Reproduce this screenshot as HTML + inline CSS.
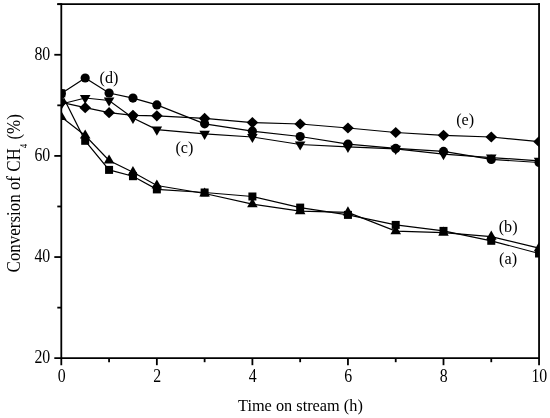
<!DOCTYPE html>
<html><head><meta charset="utf-8"><style>
html,body{margin:0;padding:0;background:#fff;}
body{width:550px;height:418px;overflow:hidden;font-family:"Liberation Serif",serif;}
svg{display:block;will-change:transform;}
</style></head><body>
<svg width="550" height="418" viewBox="0 0 550 418">
<defs><clipPath id="pc"><rect x="61.3" y="4.2" width="477.74999999999994" height="354.0"/></clipPath></defs>
<rect width="550" height="418" fill="#fff"/>
<g clip-path="url(#pc)">
<polyline points="61.30,102.40 85.19,107.70 109.07,112.70 132.96,115.30 156.85,115.80 204.62,118.40 252.40,122.60 300.17,124.00 347.95,128.00 395.72,132.50 443.50,135.30 491.27,137.00 539.05,141.70" fill="none" stroke="#000" stroke-width="1.2"/>
<polyline points="61.30,93.60 85.19,78.00 109.07,93.00 132.96,98.10 156.85,104.90 204.62,123.80 252.40,131.20 300.17,136.50 347.95,144.20 395.72,148.40 443.50,151.40 491.27,159.40 539.05,162.50" fill="none" stroke="#000" stroke-width="1.2"/>
<polyline points="61.30,104.00 85.19,98.00 109.07,100.50 132.96,118.00 156.85,129.60 204.62,133.90 252.40,137.00 300.17,144.50 347.95,146.80 395.72,148.90 443.50,154.10 491.27,157.60 539.05,160.80" fill="none" stroke="#000" stroke-width="1.2"/>
<polyline points="61.30,117.00 85.19,135.50 109.07,160.50 132.96,172.20 156.85,185.50 204.62,193.50 252.40,204.10 300.17,211.10 347.95,212.40 395.72,231.10 443.50,232.70 491.27,236.70 539.05,248.20" fill="none" stroke="#000" stroke-width="1.2"/>
<polyline points="61.30,93.30 85.19,140.80 109.07,169.90 132.96,176.20 156.85,189.40 204.62,192.50 252.40,196.50 300.17,207.60 347.95,214.90 395.72,224.90 443.50,230.90 491.27,240.80 539.05,253.50" fill="none" stroke="#000" stroke-width="1.2"/>
<polygon points="61.30,96.80 67.10,102.40 61.30,108.00 55.50,102.40"/>
<polygon points="85.19,102.10 90.99,107.70 85.19,113.30 79.39,107.70"/>
<polygon points="109.07,107.10 114.87,112.70 109.07,118.30 103.27,112.70"/>
<polygon points="132.96,109.70 138.76,115.30 132.96,120.90 127.16,115.30"/>
<polygon points="156.85,110.20 162.65,115.80 156.85,121.40 151.05,115.80"/>
<polygon points="204.62,112.80 210.43,118.40 204.62,124.00 198.82,118.40"/>
<polygon points="252.40,117.00 258.20,122.60 252.40,128.20 246.60,122.60"/>
<polygon points="300.17,118.40 305.97,124.00 300.17,129.60 294.37,124.00"/>
<polygon points="347.95,122.40 353.75,128.00 347.95,133.60 342.15,128.00"/>
<polygon points="395.72,126.90 401.52,132.50 395.72,138.10 389.92,132.50"/>
<polygon points="443.50,129.70 449.30,135.30 443.50,140.90 437.70,135.30"/>
<polygon points="491.27,131.40 497.07,137.00 491.27,142.60 485.47,137.00"/>
<polygon points="539.05,136.10 544.85,141.70 539.05,147.30 533.25,141.70"/>
<circle cx="61.30" cy="93.60" r="4.6"/>
<circle cx="85.19" cy="78.00" r="4.6"/>
<circle cx="109.07" cy="93.00" r="4.6"/>
<circle cx="132.96" cy="98.10" r="4.6"/>
<circle cx="156.85" cy="104.90" r="4.6"/>
<circle cx="204.62" cy="123.80" r="4.6"/>
<circle cx="252.40" cy="131.20" r="4.6"/>
<circle cx="300.17" cy="136.50" r="4.6"/>
<circle cx="347.95" cy="144.20" r="4.6"/>
<circle cx="395.72" cy="148.40" r="4.6"/>
<circle cx="443.50" cy="151.40" r="4.6"/>
<circle cx="491.27" cy="159.40" r="4.6"/>
<circle cx="539.05" cy="162.50" r="4.6"/>
<polygon points="61.30,110.10 66.58,100.95 56.02,100.95"/>
<polygon points="85.19,104.10 90.47,94.95 79.90,94.95"/>
<polygon points="109.07,106.60 114.36,97.45 103.79,97.45"/>
<polygon points="132.96,124.10 138.25,114.95 127.68,114.95"/>
<polygon points="156.85,135.70 162.13,126.55 151.57,126.55"/>
<polygon points="204.62,140.00 209.91,130.85 199.34,130.85"/>
<polygon points="252.40,143.10 257.68,133.95 247.12,133.95"/>
<polygon points="300.17,150.60 305.46,141.45 294.89,141.45"/>
<polygon points="347.95,152.90 353.23,143.75 342.67,143.75"/>
<polygon points="395.72,155.00 401.01,145.85 390.44,145.85"/>
<polygon points="443.50,160.20 448.78,151.05 438.22,151.05"/>
<polygon points="491.27,163.70 496.56,154.55 485.99,154.55"/>
<polygon points="539.05,166.90 544.33,157.75 533.77,157.75"/>
<polygon points="61.30,110.90 66.58,120.05 56.02,120.05"/>
<polygon points="85.19,129.40 90.47,138.55 79.90,138.55"/>
<polygon points="109.07,154.40 114.36,163.55 103.79,163.55"/>
<polygon points="132.96,166.10 138.25,175.25 127.68,175.25"/>
<polygon points="156.85,179.40 162.13,188.55 151.57,188.55"/>
<polygon points="204.62,187.40 209.91,196.55 199.34,196.55"/>
<polygon points="252.40,198.00 257.68,207.15 247.12,207.15"/>
<polygon points="300.17,205.00 305.46,214.15 294.89,214.15"/>
<polygon points="347.95,206.30 353.23,215.45 342.67,215.45"/>
<polygon points="395.72,225.00 401.01,234.15 390.44,234.15"/>
<polygon points="443.50,226.60 448.78,235.75 438.22,235.75"/>
<polygon points="491.27,230.60 496.56,239.75 485.99,239.75"/>
<polygon points="539.05,242.10 544.33,251.25 533.77,251.25"/>
<rect x="57.30" y="89.30" width="8.0" height="8.0"/>
<rect x="81.19" y="136.80" width="8.0" height="8.0"/>
<rect x="105.07" y="165.90" width="8.0" height="8.0"/>
<rect x="128.96" y="172.20" width="8.0" height="8.0"/>
<rect x="152.85" y="185.40" width="8.0" height="8.0"/>
<rect x="200.62" y="188.50" width="8.0" height="8.0"/>
<rect x="248.40" y="192.50" width="8.0" height="8.0"/>
<rect x="296.17" y="203.60" width="8.0" height="8.0"/>
<rect x="343.95" y="210.90" width="8.0" height="8.0"/>
<rect x="391.72" y="220.90" width="8.0" height="8.0"/>
<rect x="439.50" y="226.90" width="8.0" height="8.0"/>
<rect x="487.27" y="236.80" width="8.0" height="8.0"/>
<rect x="535.05" y="249.50" width="8.0" height="8.0"/>
</g>
<g stroke="#000" stroke-width="1.8" fill="none"><line x1="57.30" y1="4.2" x2="539.95" y2="4.2"/>
<line x1="539.05" y1="3.30" x2="539.05" y2="365.20"/>
<line x1="61.3" y1="3.30" x2="61.3" y2="365.20"/>
<line x1="54.30" y1="358.2" x2="539.05" y2="358.2"/>
<line x1="109.07" y1="358.2" x2="109.07" y2="362.20"/>
<line x1="156.85" y1="358.2" x2="156.85" y2="365.20"/>
<line x1="204.62" y1="358.2" x2="204.62" y2="362.20"/>
<line x1="252.40" y1="358.2" x2="252.40" y2="365.20"/>
<line x1="300.17" y1="358.2" x2="300.17" y2="362.20"/>
<line x1="347.95" y1="358.2" x2="347.95" y2="365.20"/>
<line x1="395.72" y1="358.2" x2="395.72" y2="362.20"/>
<line x1="443.50" y1="358.2" x2="443.50" y2="365.20"/>
<line x1="491.27" y1="358.2" x2="491.27" y2="362.20"/>
<line x1="57.30" y1="307.63" x2="61.3" y2="307.63"/>
<line x1="54.30" y1="257.06" x2="61.3" y2="257.06"/>
<line x1="57.30" y1="206.49" x2="61.3" y2="206.49"/>
<line x1="54.30" y1="155.91" x2="61.3" y2="155.91"/>
<line x1="57.30" y1="105.34" x2="61.3" y2="105.34"/>
<line x1="54.30" y1="54.77" x2="61.3" y2="54.77"/>
<line x1="57.30" y1="4.20" x2="61.3" y2="4.20"/></g>
<g font-family="Liberation Serif" font-size="18" fill="#000"><text transform="translate(50.2,363.10) scale(0.88,1)" font-size="18" text-anchor="end">20</text>
<text transform="translate(50.2,261.96) scale(0.88,1)" font-size="18" text-anchor="end">40</text>
<text transform="translate(50.2,160.81) scale(0.88,1)" font-size="18" text-anchor="end">60</text>
<text transform="translate(50.2,59.67) scale(0.88,1)" font-size="18" text-anchor="end">80</text>
<text transform="translate(61.60,382.3) scale(0.88,1)" font-size="18" text-anchor="middle">0</text>
<text transform="translate(157.15,382.3) scale(0.88,1)" font-size="18" text-anchor="middle">2</text>
<text transform="translate(252.70,382.3) scale(0.88,1)" font-size="18" text-anchor="middle">4</text>
<text transform="translate(348.25,382.3) scale(0.88,1)" font-size="18" text-anchor="middle">6</text>
<text transform="translate(443.80,382.3) scale(0.88,1)" font-size="18" text-anchor="middle">8</text>
<text transform="translate(539.35,382.3) scale(0.88,1)" font-size="18" text-anchor="middle">10</text>
<text transform="translate(238,410.8) scale(0.933,1)" font-size="17.5">Time on stream (h)</text>
<text transform="translate(20.1,272.4) rotate(-90) scale(0.9406,1)">Conversion of CH<tspan font-size="9.5" dy="6.4">4</tspan><tspan dy="-6.4"> (%)</tspan></text>
<text transform="translate(99.6,82.6) scale(0.95,1)" font-size="17">(d)</text>
<text transform="translate(175.4,152.8) scale(0.95,1)" font-size="17">(c)</text>
<text transform="translate(456.2,124.6) scale(0.95,1)" font-size="17">(e)</text>
<text transform="translate(498.7,231.7) scale(0.95,1)" font-size="17">(b)</text>
<text transform="translate(499.1,263.9) scale(0.95,1)" font-size="17">(a)</text></g>
</svg>
</body></html>
